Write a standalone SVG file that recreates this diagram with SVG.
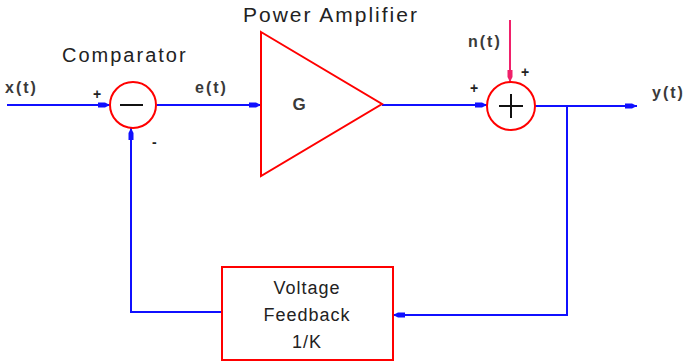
<svg xmlns="http://www.w3.org/2000/svg" width="686" height="363" viewBox="0 0 686 363">
<style>
.t{font-family:"Liberation Sans",Arial,sans-serif;fill:#222;}
.big{font-size:20px;letter-spacing:2px;}
.lab{font-size:16px;font-weight:bold;letter-spacing:2px;fill:#3a3a3a;}
.sgn{font-size:14px;font-weight:bold;fill:#222;}
.box{font-size:18px;letter-spacing:1px;}
.red{fill:none;stroke:#ff0000;stroke-width:2;}
.wire{fill:none;stroke:#1010ff;stroke-width:2;}
.nw{fill:none;stroke:#f0206a;stroke-width:2;}
</style>
<defs>
<marker id="ab" viewBox="0 0 12 8" refX="12" refY="4" markerWidth="12" markerHeight="8" markerUnits="userSpaceOnUse" orient="auto">
<path d="M0,1.5 H7 L12,4 L7,6.5 H0 Z" fill="#1010ff"/>
</marker>
<marker id="am" viewBox="0 0 12 8" refX="12" refY="4" markerWidth="12" markerHeight="8" markerUnits="userSpaceOnUse" orient="auto">
<path d="M0,1.5 H7 L12,4 L7,6.5 H0 Z" fill="#f0206a"/>
</marker>
</defs>
<g id="connectors">
<path class="wire" d="M7,105 H110" marker-end="url(#ab)"/>
<path class="wire" d="M157,105 H261" marker-end="url(#ab)"/>
<path class="wire" d="M382,105 H487" marker-end="url(#ab)"/>
<path class="nw" d="M510,20 V82" marker-end="url(#am)"/>
<path class="wire" d="M535,106 H637" marker-end="url(#ab)"/>
<path class="wire" d="M567,106 V315 H393" marker-end="url(#ab)"/>
<path class="wire" d="M222,312 H131 V128" marker-end="url(#ab)"/>
</g>
<g id="comparator">
<circle class="red" cx="133" cy="105" r="23" fill="#fff"/>
<line x1="120" y1="105" x2="143" y2="105" stroke="#111" stroke-width="2"/>
<text class="t big" x="62" y="62">Comparator</text>
<text class="t sgn" x="93" y="99">+</text>
<text class="t sgn" x="152" y="147">-</text>
</g>
<g id="amplifier">
<polygon class="red" points="261,32 382,104 261,176"/>
<text class="t lab" x="300" y="110" text-anchor="middle" style="font-size:17px">G</text>
<text class="t big" x="243" y="22" style="font-size:21px">Power Amplifier</text>
</g>
<g id="summer">
<circle class="red" cx="511" cy="106" r="24" fill="#fff"/>
<line x1="499" y1="106" x2="523" y2="106" stroke="#111" stroke-width="2"/>
<line x1="511" y1="94" x2="511" y2="118" stroke="#111" stroke-width="2"/>
<text class="t sgn" x="470" y="93">+</text>
<text class="t sgn" x="521" y="77">+</text>
<text class="t lab" x="468" y="47">n(t)</text>
</g>
<g id="feedback">
<rect class="red" x="222" y="267" width="171" height="93"/>
<text class="t box" x="307" y="294" text-anchor="middle">Voltage</text>
<text class="t box" x="307" y="321" text-anchor="middle">Feedback</text>
<text class="t box" x="307" y="348" text-anchor="middle">1/K</text>
</g>
<g id="labels">
<text class="t lab" x="5" y="93">x(t)</text>
<text class="t lab" x="195" y="93">e(t)</text>
<text class="t lab" x="652" y="98">y(t)</text>
</g>
</svg>
